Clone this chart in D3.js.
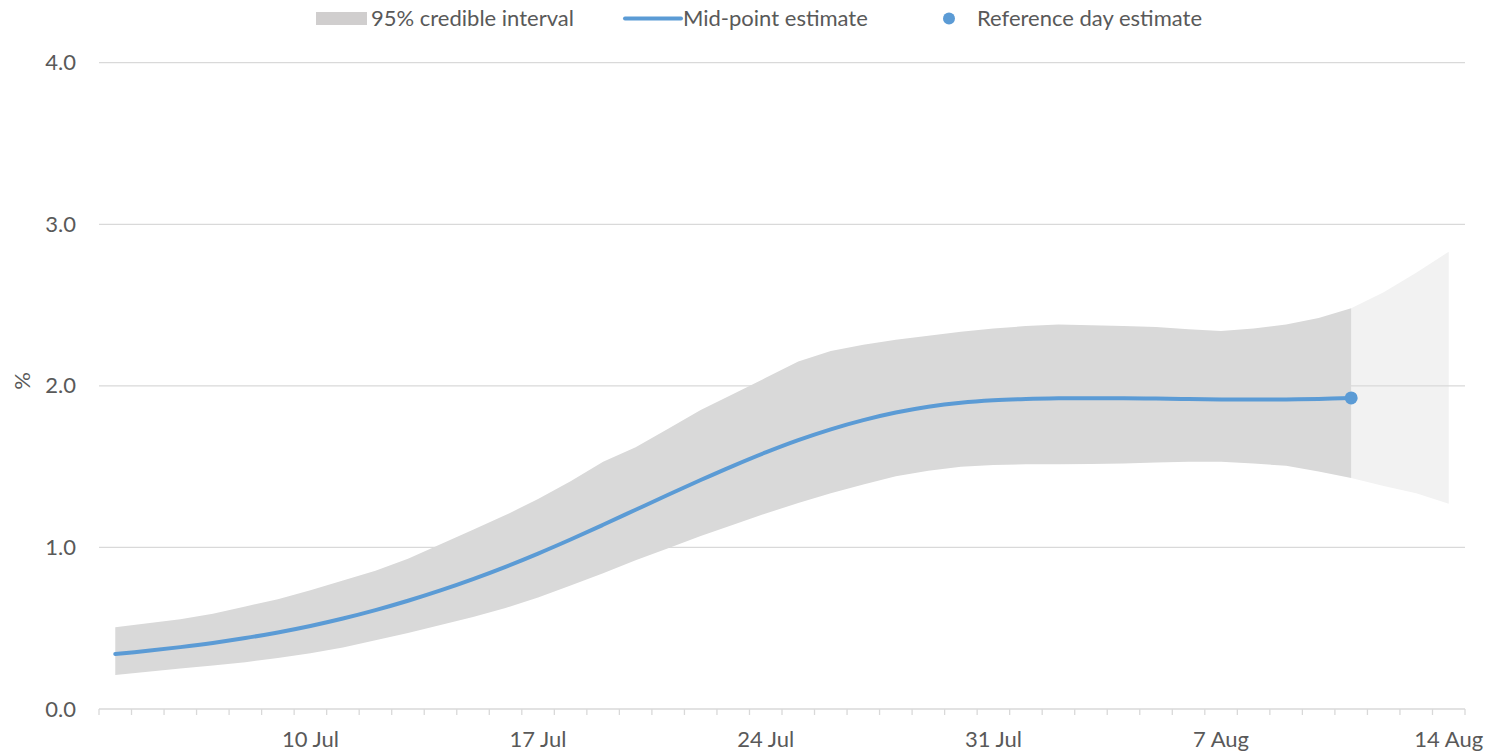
<!DOCTYPE html>
<html>
<head>
<meta charset="utf-8">
<script src="https://cdn.jsdelivr.net/npm/d3@7"></script>
<style>
  html, body { margin: 0; padding: 0; background: #fff; }
  svg { display: block; font-family: Lato, "Open Sans", sans-serif; }
</style>
</head>
<body>
<svg id="chart" width="1487" height="753"></svg>
<script>
// ---- data ----
const dates = ["4 Jul","5 Jul","6 Jul","7 Jul","8 Jul","9 Jul","10 Jul","11 Jul","12 Jul","13 Jul",
  "14 Jul","15 Jul","16 Jul","17 Jul","18 Jul","19 Jul","20 Jul","21 Jul","22 Jul","23 Jul",
  "24 Jul","25 Jul","26 Jul","27 Jul","28 Jul","29 Jul","30 Jul","31 Jul","1 Aug","2 Aug",
  "3 Aug","4 Aug","5 Aug","6 Aug","7 Aug","8 Aug","9 Aug","10 Aug","11 Aug","12 Aug",
  "13 Aug","14 Aug"];
const tickLabels = ["10 Jul","17 Jul","24 Jul","31 Jul","7 Aug","14 Aug"];
const yTicks = [0, 1, 2, 3, 4];

// mid-point estimate (4 Jul - 11 Aug)
const midValues = [0.34,0.36,0.383,0.409,0.439,0.474,0.514,0.56,0.612,0.67,
  0.734,0.804,0.88,0.962,1.049,1.14,1.233,1.326,1.417,1.505,
  1.588,1.664,1.731,1.788,1.835,1.871,1.896,1.911,1.919,1.923,
  1.924,1.923,1.921,1.918,1.916,1.915,1.916,1.919,1.925];
// 95% credible interval, modelled period (4 Jul - 11 Aug)
const upperValues = [0.506,0.53,0.555,0.59,0.635,0.68,0.735,0.795,0.855,0.93,
  1.02,1.11,1.20,1.30,1.41,1.53,1.62,1.735,1.85,1.95,
  2.05,2.15,2.215,2.255,2.285,2.31,2.335,2.355,2.37,2.38,
  2.375,2.37,2.365,2.35,2.34,2.355,2.38,2.42,2.48];
const lowerValues = [0.21,0.23,0.25,0.27,0.29,0.315,0.345,0.38,0.425,0.47,
  0.52,0.57,0.625,0.69,0.765,0.84,0.92,0.995,1.07,1.14,
  1.21,1.275,1.335,1.39,1.44,1.475,1.50,1.51,1.515,1.515,
  1.517,1.52,1.525,1.53,1.53,1.52,1.505,1.47,1.43];
// projected interval (11 Aug - 14 Aug)
const projDates = ["11 Aug","12 Aug","13 Aug","14 Aug"];
const projUpper = [2.48,2.58,2.70,2.83];
const projLower = [1.43,1.38,1.335,1.27];
const refDate = "11 Aug";
const refValue = 1.925;

// ---- layout ----
const svg = d3.select("#chart");
const mLeft = 99, mRight = 1465, mTop = 62.7, mBottom = 709;
const textColor = "#595959", gridColor = "#d9d9d9";
const fs = 22;

const x = d3.scaleBand().domain(dates).range([mLeft, mRight]).paddingInner(0).paddingOuter(0);
const xc = d => x(d) + x.bandwidth() / 2;
const y = d3.scaleLinear().domain([0, 4]).range([mBottom, mTop]);

// light projected band (below grid)
const projData = projDates.map((d, i) => ({d, u: projUpper[i], l: projLower[i]}));
svg.append("path")
  .datum(projData)
  .attr("fill", "#f2f2f2")
  .attr("d", d3.area().x(p => xc(p.d)).y0(p => y(p.l)).y1(p => y(p.u)));

// gridlines
svg.append("g").selectAll("line").data(yTicks.filter(t => t > 0)).join("line")
  .attr("x1", mLeft).attr("x2", mRight)
  .attr("y1", d => y(d)).attr("y2", d => y(d))
  .attr("stroke", gridColor).attr("stroke-width", 1.3);

// dark band
const bandData = dates.slice(0, upperValues.length).map((d, i) => ({d, u: upperValues[i], l: lowerValues[i]}));
svg.append("path")
  .datum(bandData)
  .attr("fill", "#d9d9d9")
  .attr("d", d3.area().x(p => xc(p.d)).y0(p => y(p.l)).y1(p => y(p.u)));

// mid line
const midData = dates.slice(0, midValues.length).map((d, i) => ({d, v: midValues[i]}));
svg.append("path")
  .datum(midData)
  .attr("fill", "none")
  .attr("stroke", "#5b9bd5")
  .attr("stroke-width", 4)
  .attr("stroke-linecap", "round")
  .attr("stroke-linejoin", "round")
  .attr("d", d3.line().x(p => xc(p.d)).y(p => y(p.v)).curve(d3.curveCatmullRom.alpha(0.5)));

// reference point
svg.append("circle")
  .attr("cx", xc(refDate)).attr("cy", y(refValue)).attr("r", 6.5)
  .attr("fill", "#5b9bd5");

// x axis
const xAxisG = svg.append("g");
xAxisG.append("line").attr("x1", mLeft).attr("x2", mRight).attr("y1", mBottom).attr("y2", mBottom)
  .attr("stroke", gridColor).attr("stroke-width", 1.3);
const tickPos = dates.map(d => x(d)).concat([mRight]);
xAxisG.selectAll("line.tick").data(tickPos).join("line").attr("class", "tick")
  .attr("x1", d => d).attr("x2", d => d).attr("y1", mBottom).attr("y2", mBottom + 6)
  .attr("stroke", gridColor).attr("stroke-width", 1.3);
xAxisG.selectAll("text").data(tickLabels).join("text")
  .attr("x", d => xc(d)).attr("y", mBottom + 38)
  .attr("text-anchor", "middle")
  .attr("fill", textColor).attr("font-size", fs)
  .text(d => d);

// y axis labels
svg.append("g").selectAll("text").data(yTicks).join("text")
  .attr("x", 76).attr("y", d => y(d) + 7.5)
  .attr("text-anchor", "end")
  .attr("fill", textColor).attr("font-size", fs)
  .text(d => d3.format(".1f")(d));

svg.append("text")
  .attr("transform", "translate(30,381) rotate(-90)")
  .attr("text-anchor", "middle")
  .attr("fill", textColor).attr("font-size", fs)
  .text("%");

// legend
const lg = svg.append("g");
lg.append("rect").attr("x", 316).attr("y", 12).attr("width", 51).attr("height", 13).attr("fill", "#d0cece");
lg.append("text").attr("x", 371).attr("y", 26).attr("fill", textColor).attr("font-size", fs).text("95% credible interval");
lg.append("line").attr("x1", 625).attr("x2", 681).attr("y1", 18.5).attr("y2", 18.5)
  .attr("stroke", "#5b9bd5").attr("stroke-width", 4).attr("stroke-linecap", "round");
lg.append("text").attr("x", 683).attr("y", 26).attr("fill", textColor).attr("font-size", fs).text("Mid-point estimate");
lg.append("circle").attr("cx", 949).attr("cy", 18.5).attr("r", 6).attr("fill", "#5b9bd5");
lg.append("text").attr("x", 977).attr("y", 26).attr("fill", textColor).attr("font-size", fs).text("Reference day estimate");
</script>
</body>
</html>
